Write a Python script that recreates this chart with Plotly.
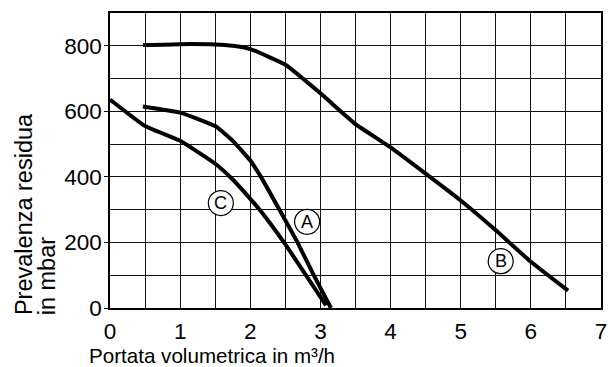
import plotly.graph_objects as go

# Data
a_x = [0.47, 1.0, 1.5, 1.75, 2.0, 2.16, 2.42, 2.68, 2.91, 3.15]
a_y = [615, 596, 555, 510, 450, 397, 298, 197, 98, 0]

b_x = [0.47, 1.0, 1.5, 1.75, 2.0, 2.5, 3.0, 3.5, 4.0, 4.5, 5.0, 5.5, 6.0, 6.53]
b_y = [802, 805, 804, 800, 790, 742, 655, 561, 490, 410, 328, 237, 141, 53]

c_x = [0.0, 0.5, 1.0, 1.5, 1.75, 2.0, 2.14, 2.49, 2.80, 3.08]
c_y = [636, 555, 510, 440, 392, 333, 298, 197, 98, 8]

labels = ["A", "B", "C"]
label_x = [2.81, 5.57, 1.58]
label_y = [263, 143, 320]

x_ticks = [0, 1, 2, 3, 4, 5, 6, 7]
y_ticks = [0, 200, 400, 600, 800]

x_title = "Portata volumetrica in m³/h"
y_title_1 = "Prevalenza residua"
y_title_2 = "in mbar"

FONT = "Liberation Sans, Arial, sans-serif"

fig = go.Figure()
for xs, ys in [(a_x, a_y), (b_x, b_y), (c_x, c_y)]:
    fig.add_trace(go.Scatter(x=xs, y=ys, mode="lines",
                             line=dict(color="black", width=4, shape="spline", smoothing=0.4),
                             showlegend=False, hoverinfo="skip"))

shapes = []
annotations = []
for t, lx, ly in zip(labels, label_x, label_y):
    shapes.append(dict(type="circle", xref="x", yref="y", xsizemode="pixel", ysizemode="pixel",
                       xanchor=lx, yanchor=ly, x0=-12.5, x1=12.5, y0=-12.5, y1=12.5,
                       line=dict(color="black", width=1.2), fillcolor="white", layer="above"))
    annotations.append(dict(x=lx, y=ly, xref="x", yref="y", text=t, showarrow=False,
                            font=dict(family=FONT, size=18, color="black"),
                            xanchor="center", yanchor="middle"))

annotations.append(dict(x=-0.0463, y=-47 / 295, xref="paper", yref="paper", text=x_title,
                        showarrow=False, xanchor="left", yanchor="middle",
                        font=dict(family=FONT, size=20.6, color="black")))
annotations.append(dict(x=-87 / 497, y=-9 / 295, xref="paper", yref="paper", text=y_title_1,
                        showarrow=False, xanchor="center", yanchor="bottom", textangle=-90,
                        font=dict(family=FONT, size=23.5, color="black")))
annotations.append(dict(x=-64 / 497, y=-9 / 295, xref="paper", yref="paper", text=y_title_2,
                        showarrow=False, xanchor="center", yanchor="bottom", textangle=-90,
                        font=dict(family=FONT, size=23.5, color="black")))

fig.update_layout(
    width=613, height=367,
    margin=dict(l=110, r=6, t=13, b=59),
    paper_bgcolor="white", plot_bgcolor="white",
    shapes=shapes, annotations=annotations,
    font=dict(family=FONT, size=22, color="black"),
)
fig.update_xaxes(range=[0, 7], tickvals=x_ticks, ticktext=[str(v) for v in x_ticks],
                 showgrid=True, gridcolor="#111", gridwidth=1,
                 minor=dict(dtick=0.5, showgrid=True, gridcolor="#111", gridwidth=1),
                 showline=True, mirror=True, linecolor="black", linewidth=1.5,
                 ticks="", zeroline=False, tickfont=dict(size=22.5), ticklabelstandoff=2)
fig.update_yaxes(range=[0, 900], tickvals=y_ticks, ticktext=[str(v) for v in y_ticks],
                 showgrid=True, gridcolor="#111", gridwidth=1,
                 minor=dict(dtick=100, showgrid=True, gridcolor="#111", gridwidth=1),
                 showline=True, mirror=True, linecolor="black", linewidth=1.5,
                 ticks="outside", ticklen=4, tickcolor="black", zeroline=False,
                 tickfont=dict(size=22.5), ticklabelstandoff=-2)

fig.write_html("out.html")
